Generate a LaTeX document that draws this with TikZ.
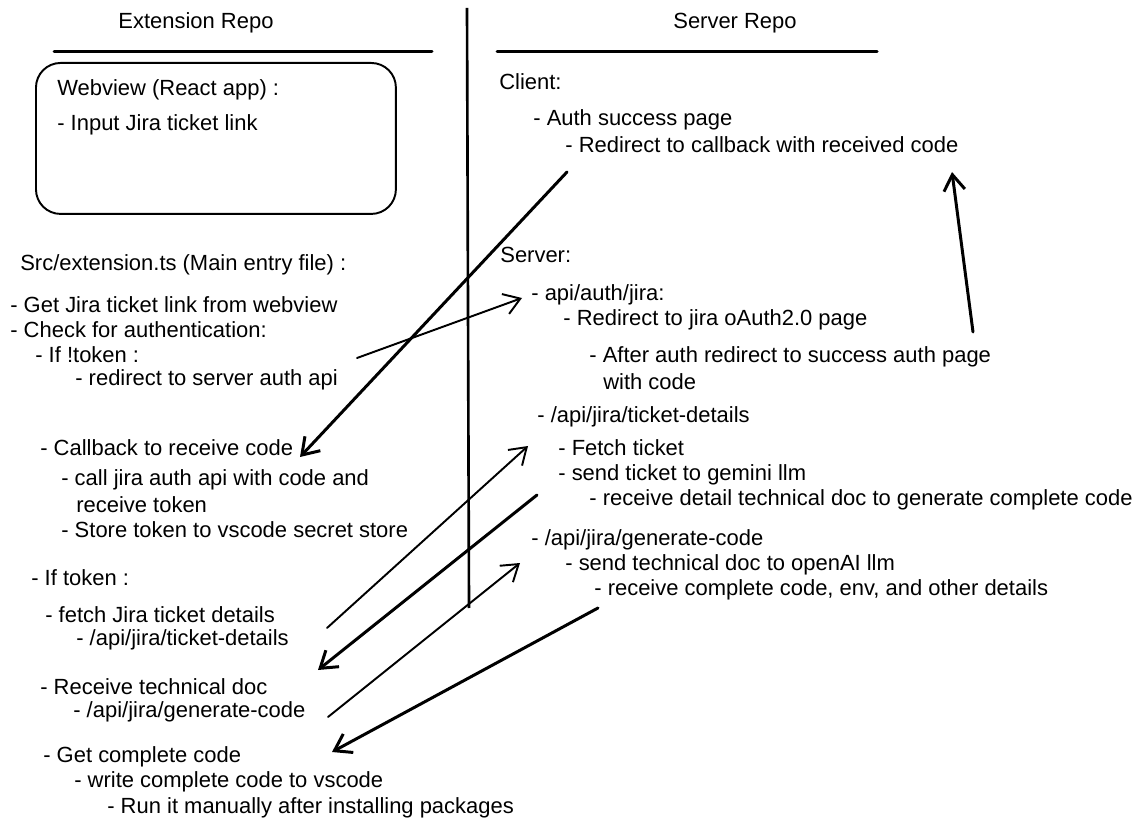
\documentclass[tikz,border=0pt]{standalone}
\usepackage{fontspec}
\setmainfont{Liberation Sans}
\usetikzlibrary{arrows.meta}

\begin{document}
\begin{tikzpicture}[x=0.02cm, y=-0.02cm,
    every node/.style={font=\fontsize{12.5pt}{15pt}\selectfont},
    txt/.style={anchor=west, inner sep=0pt},
    rule/.style={line width=1.7pt, line cap=round},
    link/.style={-{Straight Barb[length=9pt, width=12pt]}, line width=1.1pt, line cap=round},
    heavy/.style={link, line width=1.7pt}]
    \useasboundingbox (0,0) rectangle (1145,830);

    % Headers
    \node (extrepo) at (196,23) {Extension Repo};
    \node (srvrepo) at (735,23) {Server Repo};
    \draw[rule] (54,52) -- (432,52);
    \draw[rule] (497,52) -- (877,52);
    \draw[line width=1.5pt] (467,8) -- (469,608);

    % Nodes (extension side)
    \node (webbox) [draw, line width=1.1pt, rounded corners=14pt, minimum width=7.2cm, minimum height=3.02cm, anchor=north west] at (35,62) {};
    \node[txt] (webview) at (57,90) {Webview (React app) :};
    \node[txt] (inputlink) at (57,125) {- Input Jira ticket link};

    \node[txt] (srcfile) at (20,265) {Src/extension.ts (Main entry file) :};
    \node[txt] (getlink) at (10,305) {- Get Jira ticket link from webview};
    \node[txt] (checkauth) at (10,330) {- Check for authentication:};
    \node[txt] (notoken) at (35,355) {- If !token :};
    \node[txt] (redirect) at (75,380) {- redirect to server auth api};

    \node[txt] (callback) at (40,448) {- Callback to receive code};
    \node[txt] (calljira) at (61,480) {- call jira auth api with code and};
    \node[txt] (recvtoken) at (76,505) {receive token};
    \node[txt] (storetoken) at (61,530) {- Store token to vscode secret store};

    \node[txt] (hastoken) at (31,578) {- If token :};
    \node[txt] (fetchjira) at (45,615) {- fetch Jira ticket details};
    \node[txt] (ticketapi) at (76,640) {- /api/jira/ticket-details};
    \node[txt] (recvdoc) at (40,687) {- Receive technical doc};
    \node[txt] (genapi) at (73,712) {- /api/jira/generate-code};
    \node[txt] (getcode) at (43,757) {- Get complete code};
    \node[txt] (writecode) at (74,782) {- write complete code to vscode};
    \node[txt] (runit) at (107,808) {- Run it manually after installing packages};

    % Nodes (server side)
    \node[txt] (client) at (499,82) {Client:};
    \node[txt] (authpage) at (533,120) {- Auth success page};
    \node[txt] (redircb) at (565,145) {- Redirect to callback with received code};

    \node[txt] (server) at (500,255) {Server:};
    \node[txt] (authjira) at (531,295) {- api/auth/jira:};
    \node[txt] (oauthpage) at (563,320) {- Redirect to jira oAuth2.0 page};
    \node[txt] (afterauth) at (589,357) {- After auth redirect to success auth page};
    \node[txt] (withcode) at (603,382) {with code};
    \node[txt] (ticketdet) at (537,417) {- /api/jira/ticket-details};
    \node[txt] (fetchticket) at (558,448) {- Fetch ticket};
    \node[txt] (gemini) at (558,475) {- send ticket to gemini llm};
    \node[txt] (detaildoc) at (589,500) {- receive detail technical doc to generate complete code};
    \node[txt] (gencode) at (531,540) {- /api/jira/generate-code};
    \node[txt] (openai) at (565,565) {- send technical doc to openAI llm};
    \node[txt] (fullcode) at (594,590) {- receive complete code, env, and other details};

    % Arrows
    \draw[link] ([shift={(282,-22)}]redirect.west) -- ([shift={(-9,3)}]authjira.west);
    \draw[heavy] ([shift={(2,27)}]redircb.west) -- ([shift={(260,9)}]callback.west);
    \draw[heavy] ([shift={(384,-25)}]afterauth.west) -- ([shift={(387,27)}]redircb.west);
    \draw[link] ([shift={(282,13)}]fetchjira.west) -- ([shift={(-9,29)}]ticketdet.west);
    \draw[heavy] ([shift={(-52,-5)}]detaildoc.west) -- ([shift={(242,30)}]ticketapi.west);
    \draw[link] ([shift={(255,5)}]genapi.west) -- ([shift={(-11,23)}]gencode.west);
    \draw[heavy] ([shift={(4,18)}]fullcode.west) -- ([shift={(289,-5)}]getcode.west);
\end{tikzpicture}
\end{document}
